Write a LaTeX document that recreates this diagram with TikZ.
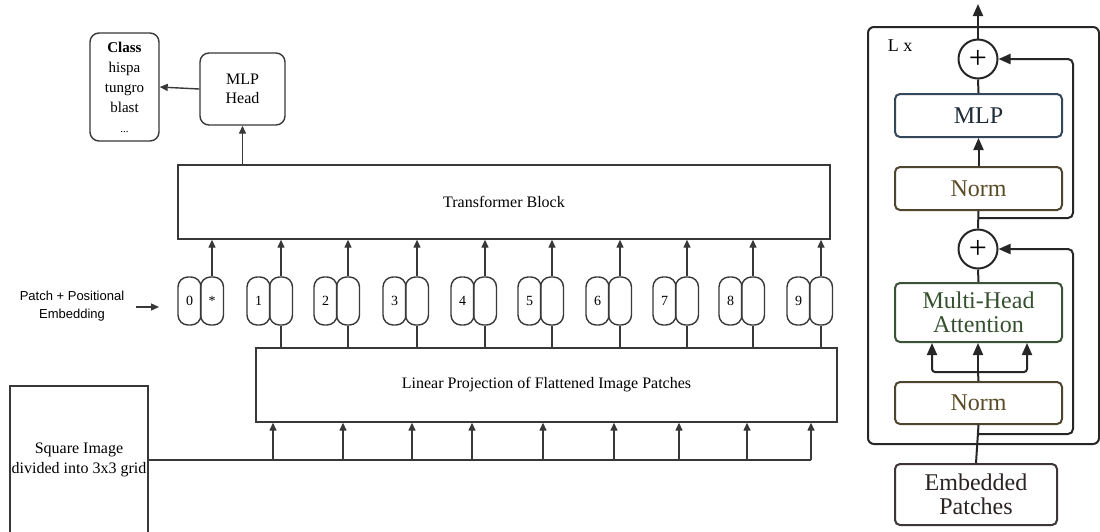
\documentclass[tikz,border=0pt]{standalone}
\usepackage{fontspec}
\setmainfont{Liberation Serif}
\setsansfont{Liberation Sans}
\usetikzlibrary{arrows.meta}
\definecolor{mlpc}{HTML}{33465A}
\definecolor{mlpt}{HTML}{1E2A38}
\definecolor{normc}{HTML}{4E4530}
\definecolor{normt}{HTML}{5A4C26}
\definecolor{mhac}{HTML}{3A5236}
\definecolor{mhat}{HTML}{35502E}
\definecolor{embc}{HTML}{3E3636}
\definecolor{embt}{HTML}{2B2222}
\begin{document}
\begin{tikzpicture}[x=1pt,y=-1pt,
 ln/.style={draw=black!78, line width=1.4pt},
 arr/.style={ln, -{Triangle[length=8pt,width=7pt]}},
 bx/.style={ln, rectangle, inner sep=0pt},
 rbx/.style={bx, rounded corners=9pt},
 tok/.style={ln, rectangle, rounded corners=10pt, minimum width=23pt, minimum height=48pt, inner sep=0pt, font=\fontsize{14}{16}\selectfont},
 rl/.style={draw=black!85, line width=2pt},
 rarr/.style={rl, -{Triangle[length=12pt,width=10pt]}},
 rbox/.style={rl, rectangle, rounded corners=5pt, minimum width=167pt, inner sep=0pt, font=\fontsize{24}{24}\selectfont, align=center},
 plus/.style={rl, circle, minimum size=39pt, inner sep=0pt, font=\fontsize{32}{32}\selectfont}
]
\clip (0,0) rectangle (1100,531);
\fill[white] (0,0) rectangle (1100,531);

% ---------- left part ----------
\node[rbx, minimum width=69pt, minimum height=108pt, align=center, font=\fontsize{15}{20}\selectfont] (cls) at (124.5,87)
  {\textbf{Class}\\hispa\\tungro\\blast\\{\fontsize{11}{12}\selectfont ...}};
\node[rbx, minimum width=85pt, minimum height=72pt, align=center, font=\fontsize{16}{19}\selectfont] (head) at (242.5,89) {MLP\\Head};
\draw[arr] (head.west) -- (cls.east);

\node[bx, minimum width=652pt, minimum height=74pt, font=\fontsize{16}{19}\selectfont] (trf) at (504,202) {Transformer Block};
\draw[arr] (trf.north -| head.south) -- (head.south);

\node[bx, minimum width=581pt, minimum height=74pt, font=\fontsize{16}{19}\selectfont] (lp) at (546.5,385) {Linear Projection of Flattened Image Patches};

\node[bx, minimum width=138pt, minimum height=148pt, align=center, font=\fontsize{16}{20}\selectfont] (sq) at (79,460) {Square Image\\divided into 3x3 grid};

\node[font=\sffamily\fontsize{13}{18}\selectfont, align=center] (pe) at (72,306) {Patch + Positional\\Embedding};
\coordinate (pea) at (136,307);
\coordinate (peb) at (159,307);
\draw[arr] (pea) -- (peb);

% tokens
\node[tok] (tl0) at (189.5,301) {0};
\node[tok] (tr0) at (212,301) {*};
\draw[arr] (tr0.north) -- (tr0.north |- trf.south);
\foreach \i/\L in {1/247,2/314,3/383,4/451,5/518,6/586,7/653,8/719,9/787} {
  \node[tok] (tl\i) at (\L+11.5,301) {\i};
  \node[tok] (tr\i) at (\L+34,301) {};
  \draw[arr] (tr\i.north) -- (tr\i.north |- trf.south);
  \draw[ln] (tr\i.south) -- (tr\i.south |- lp.north);
}

% image patches
\coordinate (hend) at (811,460);
\draw[ln] (sq.east) -- (hend);
\foreach \x in {273,343,412,472,543,614,679,747,811} {
  \coordinate (u\x) at (\x,460);
  \draw[arr] (u\x) -- (u\x |- lp.south);
}

% ---------- right part ----------
\node[rl, rectangle, rounded corners=6pt, minimum width=231pt, minimum height=417pt, inner sep=0pt] (outer) at (983.5,235.5) {};
\node[font=\fontsize{18}{20}\selectfont] (lx) at (900,46) {L x};

\node[plus] (p1) at (978,59) {+};
\node[rbox, draw=mlpc, text=mlpt, minimum height=43pt] (mlp) at (978.5,115.5) {MLP};
\node[rbox, draw=normc, text=normt, minimum height=43pt] (n1) at (978.5,188.5) {Norm};
\node[plus] (p2) at (978,249) {+};
\node[rbox, draw=mhac, text=mhat, minimum height=59pt] (mha) at (978.5,312.5) {Multi-Head\\Attention};
\node[rbox, draw=normc, text=normt, minimum height=42pt] (n2) at (978.5,403) {Norm};
\node[rbox, draw=embc, text=embt, minimum width=162pt, minimum height=61pt] (emb) at (976,494.5) {Embedded\\Patches};

\coordinate (top) at (978,4);
\draw[rarr] (p1.north) -- (top);
\draw[rl] (p1.south) -- (mlp.north);
\draw[rarr] (n1.north) -- (mlp.south);
\draw[rl] (n1.south) -- (p2.north);
\draw[rl] (p2.south) -- (mha.north);

\coordinate (fork) at (978,372);
\coordinate (fl) at (932,372);
\coordinate (fr) at (1027,372);
\draw[rl] (n2.north) -- (fork);
\draw[rarr] (fork) -- (fork |- mha.south);
\draw[rarr, rounded corners=3pt] (fork) -- (fl) -- (fl |- mha.south);
\draw[rarr, rounded corners=3pt] (fork) -- (fr) -- (fr |- mha.south);
\draw[rl] (emb.north) -- (n2.south);

\coordinate (s1) at (978,218);
\coordinate (k1) at (1073,218);
\draw[rarr, rounded corners=5pt] (s1) -- (k1) |- (p1.east);
\coordinate (s2) at (978,434);
\coordinate (k2) at (1073,434);
\draw[rarr, rounded corners=5pt] (s2) -- (k2) |- (p2.east);
\end{tikzpicture}
\end{document}
